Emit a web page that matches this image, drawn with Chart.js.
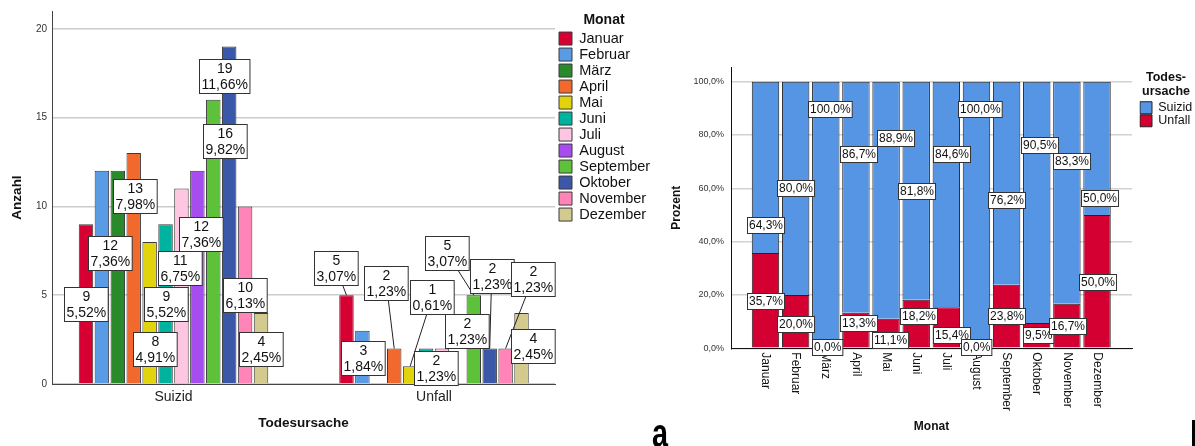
<!DOCTYPE html>
<html>
<head>
<meta charset="utf-8">
<script src="https://cdn.jsdelivr.net/npm/chart.js@4.4.1/dist/chart.umd.min.js"></script>
<style>
  body { margin: 0; background: #fff; width: 1195px; height: 446px; overflow: hidden; position: relative; }
  #links { position: absolute; left: 0; top: 0; }
  #rechts { position: absolute; left: 660px; top: 0; }
  #tafel { position: absolute; left: 652px; top: 413px; font: bold 40px "Liberation Sans", Arial, sans-serif; line-height: 40px; transform: scaleX(0.72); transform-origin: left top; color: #000; }
  #strich { position: absolute; left: 1192px; top: 420px; width: 3px; height: 26px; background: #000; }
</style>
</head>
<body>
<canvas id="links" width="660" height="446"></canvas>
<canvas id="rechts" width="535" height="446"></canvas>
<div id="tafel">a</div>
<div id="strich"></div>
<script>
// Daten
const monate = ['Januar', 'Februar', 'März', 'April', 'Mai', 'Juni', 'Juli', 'August', 'September', 'Oktober', 'November', 'Dezember'];
const ursachen = ['Suizid', 'Unfall'];
const suizid = [9, 12, 12, 13, 8, 9, 11, 12, 16, 19, 10, 4];
const unfall = [5, 3, 0, 2, 1, 2, 2, 0, 5, 2, 2, 4];
// Anteil an allen Fällen (%)
const suizidProzGesamt = [5.52, 7.36, 7.36, 7.98, 4.91, 5.52, 6.75, 7.36, 9.82, 11.66, 6.13, 2.45];
const unfallProzGesamt = [3.07, 1.84, 0, 1.23, 0.61, 1.23, 1.23, 0, 3.07, 1.23, 1.23, 2.45];
// Anteil innerhalb des Monats (%)
const suizidProzMonat = [64.3, 80.0, 100.0, 86.7, 88.9, 81.8, 84.6, 100.0, 76.2, 90.5, 83.3, 50.0];
const unfallProzMonat = [35.7, 20.0, 0.0, 13.3, 11.1, 18.2, 15.4, 0.0, 23.8, 9.5, 16.7, 50.0];

const monatFarben = ['#d70032', '#5a9be6', '#2a892b', '#f1692c', '#e2d40c', '#00b39f',
                     '#ffc6e2', '#a74cef', '#5ec13a', '#3b57a7', '#ff84b7', '#d3ca90'];

// Lage der Beschriftungskästen: [Versatz x in px, Höhe in Achsenwerten], null = keine Beschriftung
const suizidKasten = [[0, 4.5], [8, 7.4], null, [1, 10.6], [5, 1.95], [0, 4.5], [-2, 6.55], [3, 8.45], [12, 13.7], [-5, 17.35], [0, 5], [0, 1.95]];
const unfallKasten = [[-10.5, 6.55], [0, 1.45], null, [-8, 5.7], [22, 4.87], [10, 0.9], [25, 2.97], null, [-27, 7.4], [2, 6.1], [27, 5.9], [11, 2.13]];
const suizidKastenProz = [[0, 46.2], [0, 60.1], [4, 89.7], [3, 73], [9, 78.8], [0, 59], [5, 73], [3, 89.7], [0, 55.6], [3, 76.3], [5, 70.3], [2, 56.4]];
const unfallKastenProz = [[0, 17.8], [0, 9.2], [1, 0.5], [3, 9.5], [4, 3], [2, 12.2], [5, 5], [0, 0.5], [0, 12], [1, 5], [1, 8.4], [0, 25]];

const SCHRIFT = '"Liberation Sans", Arial, sans-serif';
Chart.defaults.font.family = SCHRIFT;
Chart.defaults.color = '#111';

function prozent(v, stellen) {
  return v.toFixed(stellen).replace('.', ',') + '%';
}

// leere Achse rechts, schafft Abstand zwischen Diagramm und Legende
function abstand(breite) {
  return {
    position: 'right',
    grid: { display: false, drawTicks: false },
    border: { display: false },
    ticks: { display: false },
    afterFit: a => { a.width = breite; }
  };
}

// weißer Kasten mit Rahmen, optional Führungslinie zum Balkenende
function zeichneKasten(ctx, zeilen, cx, cy, groesse, zeilenHoehe, rand, ziel) {
  ctx.font = groesse + 'px ' + SCHRIFT;
  const breite = Math.max(...zeilen.map(z => ctx.measureText(z).width)) + 2 * rand;
  const hoehe = zeilen.length * zeilenHoehe + 2;
  const x0 = Math.round(cx - breite / 2) + 0.5;
  const y0 = Math.round(cy - hoehe / 2) + 0.5;
  ctx.lineWidth = 1;
  ctx.strokeStyle = '#222';
  if (ziel && y0 + hoehe < ziel.y - 1) {
    ctx.beginPath();
    ctx.moveTo(cx, cy);
    ctx.lineTo(ziel.x, ziel.y);
    ctx.stroke();
  }
  ctx.fillStyle = '#fff';
  ctx.fillRect(x0, y0, breite, hoehe);
  ctx.strokeStyle = '#333';
  ctx.strokeRect(x0, y0, breite, hoehe);
  ctx.fillStyle = '#111';
  ctx.textAlign = 'center';
  ctx.textBaseline = 'middle';
  zeilen.forEach((z, k) => ctx.fillText(z, x0 + breite / 2, y0 + 1.5 + zeilenHoehe * (k + 0.5)));
}

const linksKaesten = {
  id: 'linksKaesten',
  afterDatasetsDraw(chart) {
    const ctx = chart.ctx;
    const y = chart.scales.y;
    ctx.save();
    monate.forEach((m, i) => {
      const balken = chart.getDatasetMeta(i).data;
      [[suizid, suizidProzGesamt, suizidKasten], [unfall, unfallProzGesamt, unfallKasten]].forEach(([werte, proz, lage], k) => {
        const pos = lage[i];
        if (!pos) return;
        const el = balken[k];
        zeichneKasten(ctx, [String(werte[i]), prozent(proz[i], 2)], el.x + pos[0], y.getPixelForValue(pos[1]), 14, 16, 2, el);
      });
    });
    ctx.restore();
  }
};

const rechtsBeschriftung = {
  id: 'rechtsBeschriftung',
  afterDatasetsDraw(chart) {
    const ctx = chart.ctx;
    const x = chart.scales.x;
    const y = chart.scales.y;
    ctx.save();
    // Monatsnamen senkrecht, von oben nach unten lesbar
    ctx.font = '12px ' + SCHRIFT;
    ctx.fillStyle = '#111';
    ctx.textAlign = 'left';
    ctx.textBaseline = 'middle';
    monate.forEach((m, i) => {
      ctx.save();
      ctx.translate(x.getPixelForValue(i), chart.chartArea.bottom + 4);
      ctx.rotate(Math.PI / 2);
      ctx.fillText(m, 0, 0);
      ctx.restore();
    });
    const unfallBalken = chart.getDatasetMeta(0).data;
    const suizidBalken = chart.getDatasetMeta(1).data;
    monate.forEach((m, i) => {
      const s = suizidKastenProz[i], u = unfallKastenProz[i];
      zeichneKasten(ctx, [prozent(suizidProzMonat[i], 1)], suizidBalken[i].x + s[0], y.getPixelForValue(s[1]), 12, 14, 1.5);
      zeichneKasten(ctx, [prozent(unfallProzMonat[i], 1)], unfallBalken[i].x + u[0], y.getPixelForValue(u[1]), 12, 14, 1.5);
    });
    ctx.restore();
  }
};

// Anzahl nach Todesursache, gruppiert nach Monat
new Chart(document.getElementById('links'), {
  type: 'bar',
  data: {
    datasets: monate.map((m, i) => ({
      label: m,
      data: ursachen.map((u, k) => ({ x: k, y: k === 0 ? suizid[i] : unfall[i] })),
      backgroundColor: monatFarben[i],
      borderColor: '#3a3a3a',
      borderWidth: 1,
      categoryPercentage: 0.733,
      barPercentage: 0.91
    }))
  },
  options: {
    responsive: false,
    animation: false,
    layout: { padding: { left: 0, top: 8, right: 9.5, bottom: 0 } },
    scales: {
      x: {
        type: 'linear',
        offset: false,
        min: -0.4664,
        max: 1.4645,
        afterBuildTicks: a => { a.ticks = ursachen.map((u, k) => ({ value: k })); },
        afterFit: a => { a.height = 62; },
        grid: { display: false, drawTicks: false, offset: false },
        border: { color: '#444', width: 1 },
        ticks: { callback: v => ursachen[v], font: { size: 14 }, color: '#222', padding: 5 },
        title: { display: true, text: 'Todesursache', font: { size: 13.5, weight: 'bold' }, color: '#111', padding: { top: 0, bottom: 14.9 } }
      },
      y: {
        min: 0,
        max: 21,
        afterFit: a => { a.width = 52; },
        ticks: { stepSize: 5, includeBounds: false, font: { size: 10 }, color: '#333', padding: 5 },
        grid: { color: '#cccccc', lineWidth: 1.5, drawTicks: false },
        border: { color: '#444', width: 1 },
        title: { display: true, text: 'Anzahl', font: { size: 13.5, weight: 'bold' }, color: '#111', padding: { top: 8.9, bottom: 0 } }
      },
      rand: abstand(2.5)
    },
    plugins: {
      legend: {
        position: 'right',
        align: 'start',
        maxWidth: 93,
        title: { display: true, text: 'Monat', font: { size: 14, weight: 'bold' }, color: '#111', padding: { top: 5, bottom: 0 } },
        labels: { boxWidth: 13, boxHeight: 13, font: { size: 14.5 }, color: '#111', padding: 1.5 }
      },
      tooltip: { enabled: false }
    }
  },
  plugins: [linksKaesten]
});

// Prozentanteile je Monat, gestapelt
new Chart(document.getElementById('rechts'), {
  type: 'bar',
  data: {
    datasets: [
      {
        label: 'Unfall',
        data: unfallProzMonat.map((v, i) => ({ x: i, y: v })),
        backgroundColor: '#d50032',
        borderColor: '#222',
        borderWidth: 1,
        categoryPercentage: 1,
        barPercentage: 0.91
      },
      {
        label: 'Suizid',
        data: suizidProzMonat.map((v, i) => ({ x: i, y: v })),
        backgroundColor: '#5595e3',
        borderColor: '#222',
        borderWidth: 1,
        categoryPercentage: 1,
        barPercentage: 0.91
      }
    ]
  },
  options: {
    responsive: false,
    animation: false,
    layout: { padding: { left: 0, top: 67, right: 2.5, bottom: 0 } },
    scales: {
      x: {
        type: 'linear',
        stacked: true,
        offset: false,
        min: -1.145,
        max: 12.16,
        afterBuildTicks: a => { a.ticks = monate.map((m, i) => ({ value: i })); },
        afterFit: a => { a.height = 97.7; },
        grid: { display: false, drawTicks: false, offset: false },
        border: { color: '#111', width: 1 },
        ticks: { display: false },
        title: { display: true, text: 'Monat', font: { size: 12, weight: 'bold' }, color: '#111', padding: { top: 0, bottom: 11.8 } }
      },
      y: {
        stacked: true,
        min: 0,
        max: 105.5,
        afterFit: a => { a.width = 71; },
        ticks: { stepSize: 20, includeBounds: false, callback: v => prozent(v, 1), font: { size: 9 }, color: '#333', padding: 7 },
        grid: { color: '#d2d2d2', lineWidth: 1.5, drawTicks: false },
        border: { color: '#111', width: 1 },
        title: { display: true, text: 'Prozent', font: { size: 12, weight: 'bold' }, color: '#111', padding: { top: 9.8, bottom: 0 } }
      },
      rand: abstand(7.5)
    },
    plugins: {
      legend: {
        position: 'right',
        align: 'start',
        reverse: true,
        maxWidth: 53,
        title: { display: true, text: ['Todes-', 'ursache'], font: { size: 12.5, weight: 'bold', lineHeight: 1.1 }, color: '#111', padding: { top: 4.75, bottom: 15.5 } },
        labels: { boxWidth: 12, boxHeight: 12, font: { size: 12.5 }, color: '#111', padding: 0.5 }
      },
      tooltip: { enabled: false }
    }
  },
  plugins: [rechtsBeschriftung]
});
</script>
</body>
</html>
